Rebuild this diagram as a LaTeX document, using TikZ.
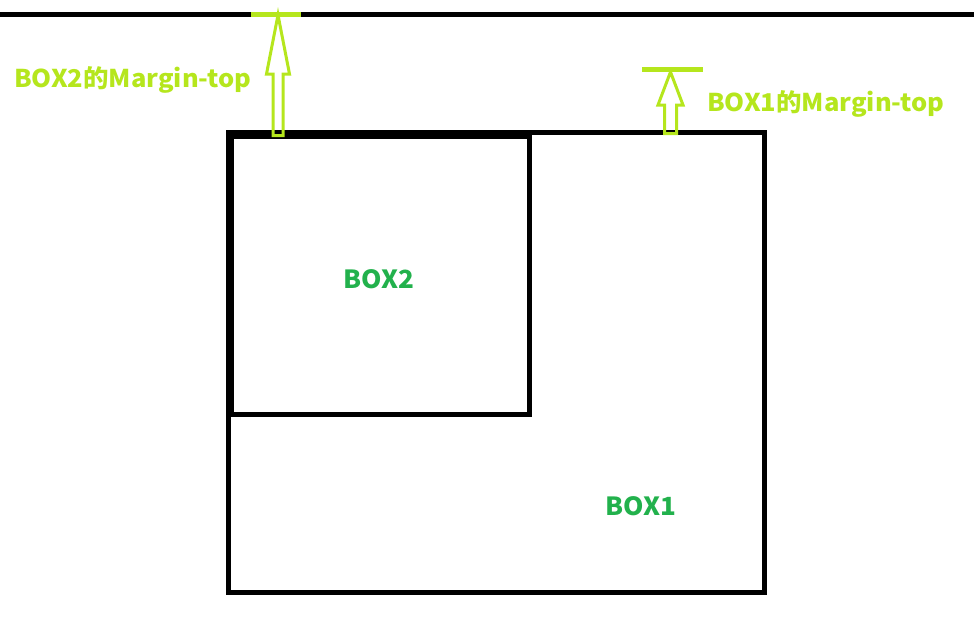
\documentclass[tikz,border=0pt]{standalone}
\usepackage{fontspec}
\newfontfamily\cjk{Noto Sans CJK SC}[FakeStretch=1.04]
\definecolor{lime}{RGB}{181,230,29}
\definecolor{boxgreen}{RGB}{34,177,76}
\begin{document}
\begin{tikzpicture}[x=1pt, y=-1pt, line join=miter]
	\useasboundingbox (0,0) rectangle (974,634);
	\tikzset{
		box/.style={draw=black, line width=5pt},
		hollow/.style={draw=lime, line width=3pt},
		bar/.style={draw=lime, line width=5pt},
		lbl/.style={inner sep=0, anchor=west, text=lime, font=\cjk\bfseries\fontsize{24.5}{28}\selectfont},
		boxname/.style={inner sep=0, text=boxgreen, font=\cjk\bfseries\fontsize{25}{28}\selectfont}
	}
	%parent top edge
	\draw[line width=5pt] (0,15) -- (974,15);
	
	%boxes
	\draw[box] (228.5,132.5) rectangle (764,592.5);
	\draw[box] (231.5,136) rectangle (529,414.5);
	\node[boxname] (box2) at (379,279){BOX2};
	\node[boxname] (box1) at (641,506){BOX1};
	
	%margins: stem x, half stem, half head, tip, head base, bottom
	\foreach \x/\s/\h/\t/\b/\e in {278/5/11.5/15/74/135.5, 670.5/6/12.5/72/105/133.5}{
		\draw[hollow] (\x-\s,\e) -- (\x-\s,\b) -- (\x-\h,\b) -- (\x,\t) -- (\x+\h,\b) -- (\x+\s,\b) -- (\x+\s,\e) -- cycle;
	}
	\draw[bar] (251,15) -- (301,15);
	\draw[bar] (642,69.5) -- (703,69.5);
	
	\node[lbl] (m2) at (14,80){BOX2的Margin-top};
	\node[lbl] (m1) at (707,104){BOX1的Margin-top};
\end{tikzpicture}
\end{document}
